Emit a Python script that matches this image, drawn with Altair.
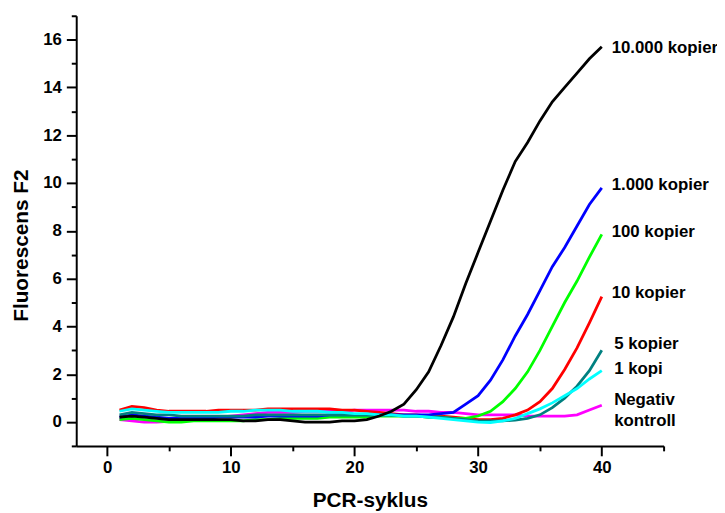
import altair as alt
import pandas as pd

cycles = list(range(1, 41))

series_names = ["Negativ kontroll", "10 kopier", "100 kopier", "1.000 kopier", "5 kopier", "1 kopi", "10.000 kopier"]
series_colors = ["#FF00FF", "#FF0000", "#00FF00", "#0000FF", "#008080", "#00FFFF", "#000000"]

neg_ctrl = [0.1, 0.05, 0.0, 0.0, 0.03, 0.05, 0.1, 0.15, 0.2, 0.25,
            0.3, 0.35, 0.4, 0.4, 0.4, 0.45, 0.45, 0.45, 0.45, 0.5,
            0.5, 0.5, 0.5, 0.5, 0.45, 0.45, 0.4, 0.4, 0.35, 0.3,
            0.3, 0.3, 0.3, 0.25, 0.25, 0.25, 0.25, 0.3, 0.5, 0.7]
k10 = [0.5, 0.65, 0.6, 0.5, 0.45, 0.45, 0.45, 0.45, 0.5, 0.5,
       0.5, 0.5, 0.55, 0.55, 0.55, 0.55, 0.55, 0.55, 0.5, 0.5,
       0.45, 0.4, 0.35, 0.3, 0.3, 0.25, 0.25, 0.2, 0.15, 0.1,
       0.1, 0.15, 0.3, 0.5, 0.85, 1.4, 2.2, 3.1, 4.15, 5.25]
k100 = [0.1, 0.15, 0.1, 0.05, 0.0, 0.0, 0.05, 0.05, 0.05, 0.05,
        0.05, 0.1, 0.1, 0.15, 0.15, 0.15, 0.15, 0.2, 0.2, 0.2,
        0.2, 0.25, 0.25, 0.25, 0.25, 0.2, 0.2, 0.15, 0.15, 0.25,
        0.45, 0.85, 1.4, 2.1, 3.0, 4.0, 5.0, 5.9, 6.9, 7.85]
k1000 = [0.2, 0.3, 0.25, 0.2, 0.15, 0.15, 0.15, 0.15, 0.2, 0.2,
         0.2, 0.2, 0.25, 0.25, 0.25, 0.25, 0.25, 0.3, 0.3, 0.3,
         0.3, 0.3, 0.3, 0.3, 0.3, 0.3, 0.35, 0.4, 0.75, 1.1,
         1.75, 2.6, 3.6, 4.5, 5.5, 6.5, 7.3, 8.2, 9.1, 9.8]
k5 = [0.3, 0.4, 0.35, 0.3, 0.3, 0.25, 0.25, 0.25, 0.25, 0.25,
      0.25, 0.3, 0.3, 0.3, 0.3, 0.3, 0.3, 0.3, 0.3, 0.3,
      0.3, 0.3, 0.3, 0.25, 0.25, 0.2, 0.2, 0.15, 0.1, 0.05,
      0.05, 0.05, 0.08, 0.15, 0.3, 0.6, 1.0, 1.5, 2.15, 3.0]
k1 = [0.45, 0.55, 0.5, 0.45, 0.4, 0.4, 0.4, 0.4, 0.4, 0.45,
      0.45, 0.5, 0.5, 0.5, 0.45, 0.45, 0.45, 0.4, 0.4, 0.35,
      0.35, 0.3, 0.3, 0.25, 0.25, 0.2, 0.15, 0.1, 0.05, 0.0,
      -0.02, 0.05, 0.15, 0.35, 0.55, 0.8, 1.1, 1.4, 1.8, 2.15]
k10000 = [0.2, 0.25, 0.2, 0.15, 0.1, 0.1, 0.1, 0.1, 0.1, 0.1,
          0.05, 0.05, 0.1, 0.1, 0.05, 0.0, 0.0, 0.0, 0.05, 0.05,
          0.1, 0.25, 0.45, 0.75, 1.35, 2.1, 3.2, 4.4, 5.8, 7.1,
          8.4, 9.7, 10.9, 11.7, 12.6, 13.4, 14.0, 14.6, 15.2, 15.7]

series_values = [neg_ctrl, k10, k100, k1000, k5, k1, k10000]

label_texts = ["10.000 kopier", "1.000 kopier", "100 kopier", "10 kopier", "5 kopier", "1 kopi", "Negativ", "kontroll"]
label_x = [40.8, 40.8, 40.8, 40.8, 41.0, 41.0, 41.0, 41.0]
label_y = [15.65, 9.9, 7.93, 5.41, 3.27, 2.23, 0.92, 0.05]

x_ticks = [0, 5, 10, 15, 20, 25, 30, 35, 40, 45]
y_ticks = list(range(-1, 18))

rows = []
for name, vals in zip(series_names, series_values):
    for c, v in zip(cycles, vals):
        rows.append({"series": name, "cycle": c, "value": v})
df = pd.DataFrame(rows)

labels_df = pd.DataFrame({"text": label_texts, "cycle": label_x, "value": label_y})

FONT = "Liberation Sans"


def x_enc():
    return alt.X(
        "cycle:Q",
        scale=alt.Scale(domain=[-2.5, 45], nice=False, zero=False),
        axis=alt.Axis(
            title="PCR-syklus",
            values=x_ticks,
            labelExpr="datum.value % 10 === 0 ? datum.label : ''",
            tickSize={"condition": {"test": "datum.value % 10 === 0", "value": 10}, "value": 5},
            tickWidth=2,
            tickColor="black",
            domainWidth=2,
            domainColor="black",
            grid=False,
            labelFont=FONT,
            labelFontSize=17,
            labelFontWeight="bold",
            labelColor="black",
            labelPadding=4,
            labelOverlap=False,
            labelFlush=False,
            titleFont=FONT,
            titleFontSize=21,
            titleFontWeight="bold",
            titleColor="black",
            titleBaseline="alphabetic",
            titleY=61,
        ),
    )


def y_enc():
    return alt.Y(
        "value:Q",
        scale=alt.Scale(domain=[-1, 17], nice=False, zero=False),
        axis=alt.Axis(
            title="Fluorescens F2",
            values=y_ticks,
            labelExpr="datum.value % 2 === 0 ? datum.label : ''",
            tickSize={"condition": {"test": "datum.value % 2 === 0", "value": 10}, "value": 5},
            tickWidth=2,
            tickColor="black",
            domainWidth=2,
            domainColor="black",
            grid=False,
            labelFont=FONT,
            labelFontSize=17,
            labelFontWeight="bold",
            labelColor="black",
            labelPadding=5,
            labelOverlap=False,
            labelFlush=False,
            titleFont=FONT,
            titleFontSize=21,
            titleFontWeight="bold",
            titleColor="black",
            titleAngle=-90,
            titleBaseline="middle",
            titleAlign="center",
            titleX=-55,
            titleY=232,
        ),
    )


layers = []
for name, col in zip(series_names, series_colors):
    layers.append(
        alt.Chart(df)
        .transform_filter(alt.datum.series == name)
        .mark_line(color=col, strokeWidth=2.8, clip=False)
        .encode(x=x_enc(), y=y_enc(), order="cycle:Q")
    )

text_layer = (
    alt.Chart(labels_df)
    .mark_text(align="left", baseline="middle", font=FONT, fontSize=17, fontWeight="bold", color="black", clip=False)
    .encode(x=x_enc(), y=y_enc(), text="text:N")
)
layers.append(text_layer)

chart = (
    alt.layer(*layers)
    .properties(
        width=594,
        height=435,
        autosize=alt.AutoSizeParams(type="none"),
        padding={"left": 69, "top": 5, "right": 54, "bottom": 65},
        background="white",
    )
    .configure_view(stroke=None)
)

chart.save("out.html", embed_options={"renderer": "svg", "actions": False})
